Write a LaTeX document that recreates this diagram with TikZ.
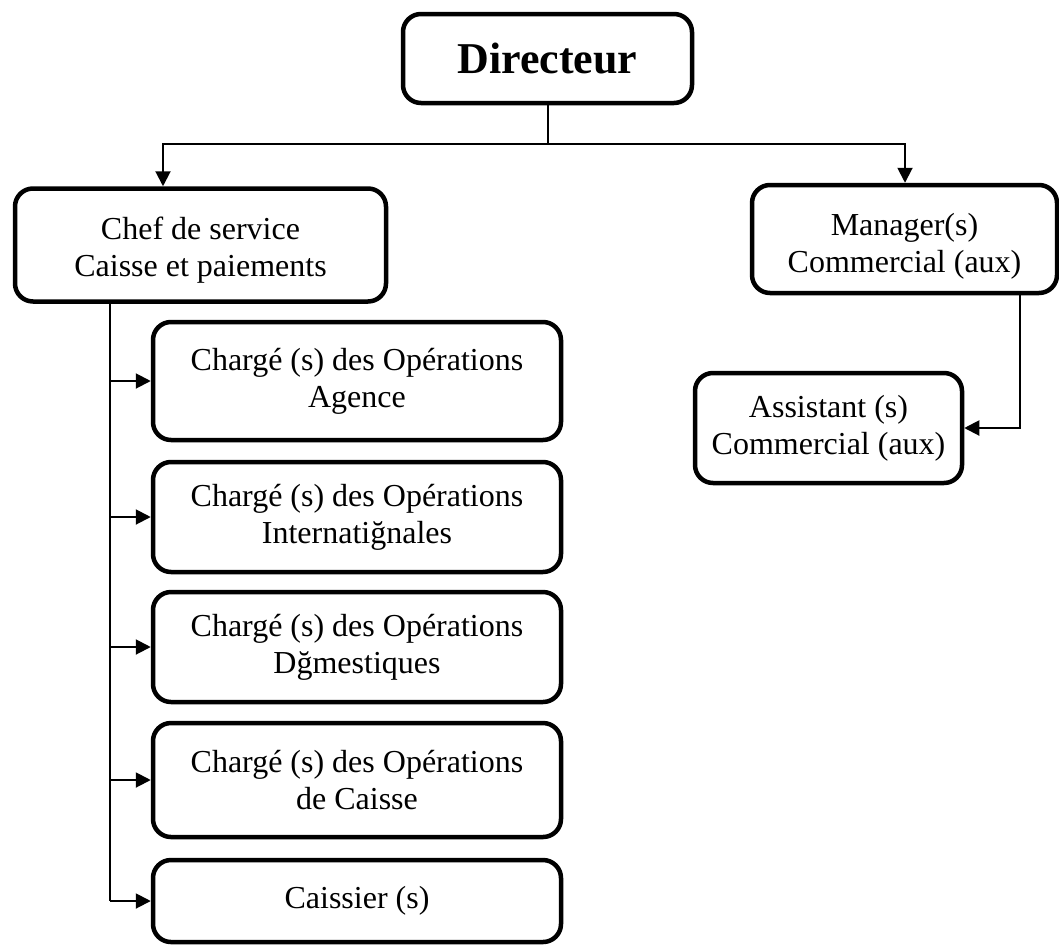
\documentclass[tikz,border=0pt]{standalone}
\usepackage{fontspec}
\setmainfont{Liberation Serif}
\usetikzlibrary{arrows.meta}
\tikzset{
  unit/.style={draw, line width=4.5pt, rounded corners=18pt, align=center,
    inner sep=0pt, font=\fontsize{32}{37}\selectfont},
  link/.style={line width=2pt},
  linkarrow/.style={link, -{Triangle[length=15pt,width=15pt]}},
}
\begin{document}
\begin{tikzpicture}[x=1pt,y=-1pt]
  \useasboundingbox (0,0) rectangle (1059,945);
  \clip (0,0) rectangle (1059,945);

  % top of the chart
  \node[unit, minimum width=289pt, minimum height=89pt,
        font=\fontsize{44}{50}\selectfont\bfseries] (dir) at (547.5,58.5) {Directeur};

  % second level
  \node[unit, minimum width=371pt, minimum height=113pt] (chef) at (200.5,245)
    {\strut\\[-31pt]Chef de service\\Caisse et paiements};
  \node[unit, minimum width=305pt, minimum height=108pt] (mgr) at (904.5,239)
    {\strut\\[-27pt]Manager(s)\\Commercial (aux)};

  % commercial branch
  \node[unit, minimum width=267pt, minimum height=110pt] (asst) at (828.5,428)
    {Assistant (s)\\Commercial (aux)};

  % operations branch
  \node[unit, minimum width=408pt, minimum height=118pt] (op1) at (357,381)
    {Chargé (s) des Opérations\\Agence};
  \node[unit, minimum width=408pt, minimum height=110pt] (op2) at (357,517)
    {Chargé (s) des Opérations\\Internatiğnales};
  \node[unit, minimum width=408pt, minimum height=110pt] (op3) at (357,647)
    {Chargé (s) des Opérations\\Dğmestiques};
  \node[unit, minimum width=408pt, minimum height=114pt] (op4) at (357,780)
    {Chargé (s) des Opérations\\de Caisse};
  \node[unit, minimum width=408pt, minimum height=82pt] (op5) at (357,901)
    {Caissier (s)};

  % junction points
  \coordinate (split) at (dir.south |- 0,144);
  \coordinate (lft) at (chef.north -| 163,0);
  \coordinate (rgt) at (mgr.north -| 905,0);
  \coordinate (trunk) at (110,0);
  \coordinate (mtrunk) at (1020,0);

  % director to second level
  \draw[link] (dir.south) -- (split);
  \draw[linkarrow] (split) -| (lft);
  \draw[linkarrow] (split) -| (rgt);

  % manager to assistant
  \draw[linkarrow] (mgr.south -| mtrunk) |- (asst.east);

  % chef to the operations desks
  \draw[link] (chef.south -| trunk) -- (trunk |- op5.west);
  \foreach \n in {op1,op2,op3,op4,op5}
    \draw[linkarrow] (trunk |- \n.west) -- (\n.west);
\end{tikzpicture}
\end{document}
